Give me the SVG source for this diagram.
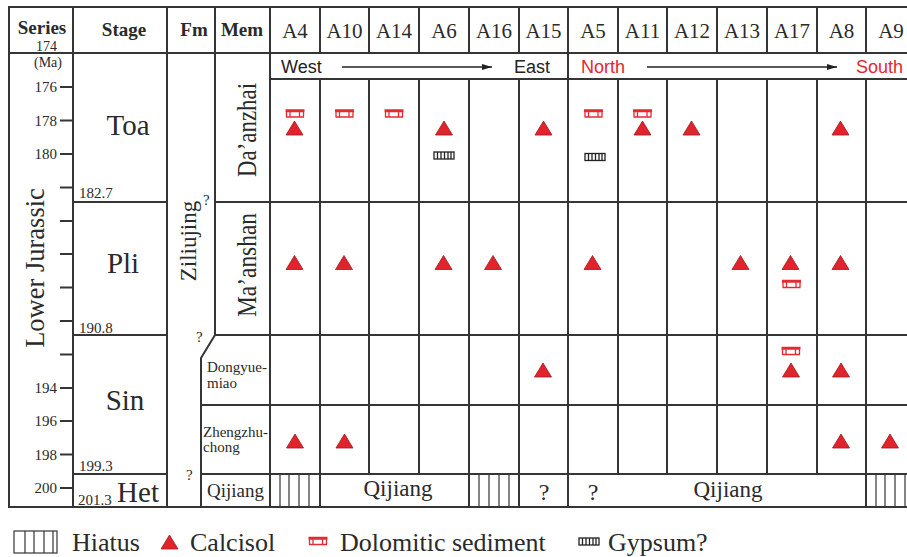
<svg xmlns="http://www.w3.org/2000/svg" width="907" height="557" viewBox="0 0 907 557">
<style>
.ln{fill:none;stroke:#353535;stroke-width:2;stroke-linecap:square}
.thin{fill:none;stroke:#353535;stroke-width:1.2}
.sf{font-family:"Liberation Serif","Times New Roman",serif;fill:#2a2a2a}
.ss{font-family:"Liberation Sans",Arial,sans-serif;font-size:18px}
.hd{font-weight:bold;font-size:19px}
.smp{font-size:21px}
.stg{font-size:29px}
.tk{font-size:15px}
.leg{font-size:26px}
</style>
<defs>
<path id="tri" d="M0,-7 L8.5,7 L-8.5,7 Z" fill="#e1232b" stroke="#9c1b22" stroke-width="0.8"/>
<g id="dolo" fill="none" stroke="#e62a32" stroke-width="1.3">
<path d="M-9.5,-3.5 H9.5 M-9.5,-2 H9.5 M-9,3.5 H9 M-8.5,-3.5 V3.5 M-5,-3.5 V3.5 M4.5,-3.5 V3.5 M8.5,-3.5 V3.5"/>
</g>
<g id="gyp" fill="none" stroke="#222" stroke-width="1.3">
<rect x="-10" y="-3.5" width="20" height="7"/>
<path d="M-6.5,-3.5 V3.5 M-3,-3.5 V3.5 M0.5,-3.5 V3.5 M4,-3.5 V3.5 M7,-3.5 V3.5"/>
</g>
<marker id="arr" viewBox="0 0 10 6" refX="10" refY="3" markerWidth="10" markerHeight="6" markerUnits="userSpaceOnUse" orient="auto">
<path d="M0,0 L10,3 L0,6 Z" fill="#222"/>
</marker>
</defs>

<g id="grid">
<path class="ln" d="M9,7 H916 M9,507 H916 M9,7 V507 M9,53 H916 M270,79 H916
M73,7 V507 M167,7 V507 M215,7 V335 L201,358 V507 M270,7 V507
M73,202 H167 M73,335 H167 M73,474 H167
M215,202 H916 M215,335 H916 M201,405 H916 M201,474 H916
M320,7 V53 M320,79 V507
M369,7 V53 M369,79 V474
M419,7 V53 M419,79 V474
M469,7 V53 M469,79 V507
M519,7 V53 M519,79 V507
M568,7 V507
M618,7 V53 M618,79 V474
M667,7 V53 M667,79 V474
M717,7 V53 M717,79 V474
M767,7 V53 M767,79 V474
M817,7 V53 M817,79 V474
M866,7 V53 M866,79 V507"/>
<path class="ln" d="M61,87 H73 M61,120.5 H73 M61,154 H73 M61,187.5 H73 M61,221 H73 M61,254 H73 M61,287.5 H73 M61,321 H73 M61,354.5 H73 M61,388 H73 M61,421 H73 M61,454.5 H73 M61,488 H73"/>
<path class="thin" d="M280,474 V507 M289,474 V507 M299,474 V507 M309,474 V507
M479,474 V507 M489,474 V507 M499,474 V507 M509,474 V507
M876,474 V507 M885,474 V507 M895,474 V507 M905,474 V507"/>
</g>

<g id="header">
<text class="sf hd" x="42" y="34" text-anchor="middle">Series</text>
<text class="sf hd" x="124" y="36" text-anchor="middle">Stage</text>
<text class="sf hd" x="194" y="36" text-anchor="middle">Fm</text>
<text class="sf hd" x="242" y="36" text-anchor="middle">Mem</text>
<g class="sf smp" text-anchor="middle">
<text x="295" y="38">A4</text>
<text x="344.5" y="38">A10</text>
<text x="394" y="38">A14</text>
<text x="444" y="38">A6</text>
<text x="494" y="38">A16</text>
<text x="543.5" y="38">A15</text>
<text x="593" y="38">A5</text>
<text x="642.5" y="38">A11</text>
<text x="692" y="38">A12</text>
<text x="742" y="38">A13</text>
<text x="792" y="38">A17</text>
<text x="841.5" y="38">A8</text>
<text x="891" y="38">A9</text>
</g>
</g>

<g id="directions">
<text class="ss" x="281" y="73" fill="#222">West</text>
<text class="ss" x="514" y="73" fill="#222">East</text>
<path d="M342,67 H492" stroke="#222" stroke-width="1.5" marker-end="url(#arr)"/>
<text class="ss" x="581" y="73" fill="#e3262e">North</text>
<text class="ss" x="856" y="73" fill="#e3262e">South</text>
<path d="M647,67 H837" stroke="#222" stroke-width="1.5" marker-end="url(#arr)"/>
</g>

<g id="timescale" class="sf tk">
<text x="57" y="51" font-size="14" text-anchor="end">174</text>
<text x="34" y="67" font-size="14">(Ma)</text>
<text x="57" y="92" text-anchor="end">176</text>
<text x="57" y="125.5" text-anchor="end">178</text>
<text x="57" y="159" text-anchor="end">180</text>
<text x="57" y="393" text-anchor="end">194</text>
<text x="57" y="426" text-anchor="end">196</text>
<text x="57" y="459.5" text-anchor="end">198</text>
<text x="57" y="493" text-anchor="end">200</text>
<text x="79" y="198">182.7</text>
<text x="79" y="333">190.8</text>
<text x="79" y="471">199.3</text>
<text x="78" y="505">201.3</text>
</g>

<g id="series">
<text class="sf" font-size="26.5" transform="translate(44,268) rotate(-90)" text-anchor="middle">Lower Jurassic</text>
</g>

<g id="stages" class="sf stg" text-anchor="middle">
<text x="128" y="135">Toa</text>
<text x="123" y="273">Pli</text>
<text x="125" y="410">Sin</text>
<text x="138" y="502">Het</text>
</g>

<g id="formation" class="sf">
<text font-size="23" transform="translate(196,241) rotate(-90)" text-anchor="middle">Ziliujing</text>
<text font-size="15" x="203" y="205">?</text>
<text font-size="15" x="196" y="342">?</text>
<text font-size="15" x="186" y="480">?</text>
</g>

<g id="members" class="sf">
<text font-size="28" transform="translate(256,130) rotate(-90)" text-anchor="middle" textLength="94" lengthAdjust="spacingAndGlyphs">Da’anzhai</text>
<text font-size="28" transform="translate(256,265) rotate(-90)" text-anchor="middle" textLength="104" lengthAdjust="spacingAndGlyphs">Ma’anshan</text>
<text font-size="15" x="207" y="372">Dongyue-</text>
<text font-size="15" x="207" y="388">miao</text>
<text font-size="15" x="203" y="437">Zhengzhu-</text>
<text font-size="15" x="203" y="452">chong</text>
<text font-size="19" x="207" y="497">Qijiang</text>
</g>

<g id="base" class="sf" text-anchor="middle">
<text font-size="23" x="398" y="496">Qijiang</text>
<text font-size="24" x="544" y="500">?</text>
<text font-size="24" x="593" y="500">?</text>
<text font-size="23" x="728" y="497">Qijiang</text>
</g>

<g id="symbols">
<use href="#dolo" x="295" y="113.5"/><use href="#tri" x="294.5" y="128"/>
<use href="#dolo" x="344.5" y="113.5"/>
<use href="#dolo" x="394" y="113.5"/>
<use href="#tri" x="444" y="128"/><use href="#gyp" x="444" y="155.5"/>
<use href="#tri" x="543.5" y="128"/>
<use href="#dolo" x="593.5" y="113.5"/><use href="#gyp" x="595" y="157"/>
<use href="#dolo" x="642.5" y="113.5"/><use href="#tri" x="642.5" y="128"/>
<use href="#tri" x="691.5" y="128"/>
<use href="#tri" x="840.5" y="128"/>

<use href="#tri" x="294.5" y="262.5"/>
<use href="#tri" x="344" y="262.5"/>
<use href="#tri" x="443.5" y="262.5"/>
<use href="#tri" x="493" y="262.5"/>
<use href="#tri" x="592.5" y="262.5"/>
<use href="#tri" x="740.5" y="262.5"/>
<use href="#tri" x="790.5" y="262.5"/><use href="#dolo" x="791.5" y="284"/>
<use href="#tri" x="840.5" y="262.5"/>

<use href="#tri" x="543" y="370"/>
<use href="#dolo" x="791" y="351"/><use href="#tri" x="791" y="370"/>
<use href="#tri" x="841" y="370"/>

<use href="#tri" x="295" y="441"/>
<use href="#tri" x="344.5" y="441"/>
<use href="#tri" x="841" y="441"/>
<use href="#tri" x="890" y="441"/>
</g>

<g id="legend">
<rect class="thin" x="14" y="531" width="43" height="22"/>
<path class="thin" d="M25,531 V553 M34,531 V553 M44,531 V553 M53,531 V553"/>
<text class="sf leg" x="72" y="551">Hiatus</text>
<use href="#tri" x="169.5" y="542"/>
<text class="sf leg" x="190" y="551">Calcisol</text>
<use href="#dolo" x="318" y="541"/>
<text class="sf leg" x="340" y="551">Dolomitic sediment</text>
<use href="#gyp" x="589" y="541.5"/>
<text class="sf leg" x="608" y="551">Gypsum?</text>
</g>
</svg>
